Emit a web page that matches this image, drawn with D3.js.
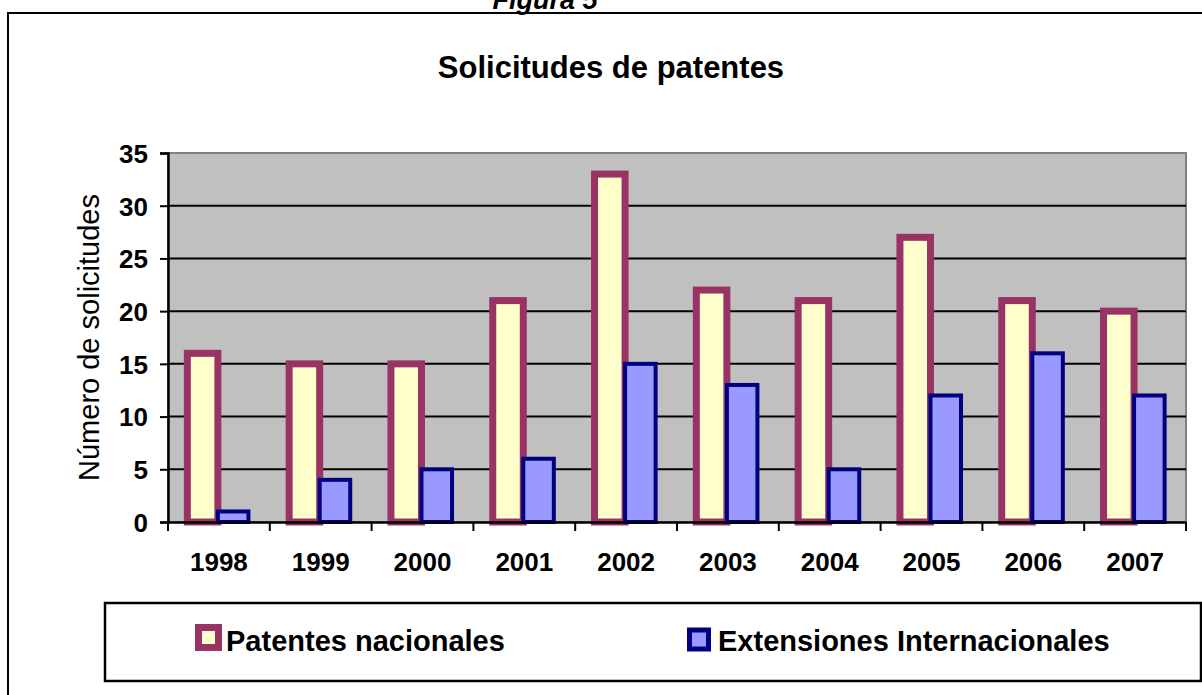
<!DOCTYPE html>
<html>
<head>
<meta charset="utf-8">
<script src="https://cdn.jsdelivr.net/npm/d3@7"></script>
<style>
  body { margin: 0; background: #fff; }
  svg text { font-family: Arial, "Liberation Sans", sans-serif; }
</style>
</head>
<body>
<svg id="chart" width="1202" height="695"></svg>
<script>
var years = ["1998", "1999", "2000", "2001", "2002", "2003", "2004", "2005", "2006", "2007"];
var patentes = [16, 15, 15, 21, 33, 22, 21, 27, 21, 20];
var extensiones = [1, 4, 5, 6, 15, 13, 5, 12, 16, 12];
var yTicks = [0, 5, 10, 15, 20, 25, 30, 35];
var seriesNames = ["Patentes nacionales", "Extensiones Internacionales"];

var svg = d3.select("#chart"),
    plot = {left: 168, right: 1186, top: 153, bottom: 522};

var data = years.map(function(y, i) { return {year: y, vals: [patentes[i], extensiones[i]]}; });

var fills = ["#ffffcc", "#9999ff"],
    strokes = ["#993366", "#000080"],
    strokeW = [7, 4];

// outer frame + figure caption (cut at the top, as in the scan)
svg.append("rect").attr("x", 8).attr("y", 13).attr("width", 1220).attr("height", 720)
  .attr("fill", "none").attr("stroke", "#000").attr("stroke-width", 2);
svg.append("text").attr("x", 545).attr("y", 9).attr("text-anchor", "middle")
  .style("font-size", "27px").style("font-weight", "bold").style("font-style", "italic")
  .text("Figura 5");

svg.append("text").attr("x", 611).attr("y", 78).attr("text-anchor", "middle")
  .style("font-size", "31px").style("font-weight", "bold")
  .text("Solicitudes de patentes");

var x0 = d3.scaleBand().domain(years).range([plot.left, plot.right]).padding(0);
var x1 = d3.scaleBand().domain([0, 1])
  .range([x0.bandwidth() * 0.19, x0.bandwidth() * 0.79]).padding(0);
var y = d3.scaleLinear().domain([0, 35]).range([plot.bottom, plot.top]);

// plot area
svg.append("rect").attr("x", plot.left).attr("y", plot.top)
  .attr("width", plot.right - plot.left).attr("height", plot.bottom - plot.top)
  .attr("fill", "#c0c0c0").attr("stroke", "#808080").attr("stroke-width", 2);

svg.append("g").selectAll("line").data(yTicks.filter(function(t) { return t > 0 && t < 35; }))
  .enter().append("line")
    .attr("x1", plot.left).attr("x2", plot.right)
    .attr("y1", function(d) { return y(d); }).attr("y2", function(d) { return y(d); })
    .attr("stroke", "#000").attr("stroke-width", 2);

// bars
var groups = svg.append("g").selectAll("g").data(data).enter().append("g")
  .attr("transform", function(d) { return "translate(" + x0(d.year) + ",0)"; });

groups.selectAll("rect")
  .data(function(d) { return d.vals.map(function(v, k) { return {k: k, v: v}; }); })
  .enter().append("rect")
    .attr("x", function(d) { return x1(d.k); })
    .attr("y", function(d) { return y(d.v); })
    .attr("width", x1.bandwidth())
    .attr("height", function(d) { return y(0) - y(d.v); })
    .attr("fill", function(d) { return fills[d.k]; })
    .attr("stroke", function(d) { return strokes[d.k]; })
    .attr("stroke-width", function(d) { return strokeW[d.k]; });

// axes
var yAxis = svg.append("g").attr("transform", "translate(" + plot.left + ",0)")
  .call(d3.axisLeft(y).tickValues(yTicks).tickSize(8).tickPadding(12));
var xAxis = svg.append("g").attr("transform", "translate(0," + plot.bottom + ")")
  .call(d3.axisBottom(x0).tickSize(0).tickPadding(31));

svg.append("g").selectAll("line").data(years.concat(["end"])).enter().append("line")
  .attr("x1", function(d, i) { return plot.left + i * x0.bandwidth(); })
  .attr("x2", function(d, i) { return plot.left + i * x0.bandwidth(); })
  .attr("y1", plot.bottom).attr("y2", plot.bottom + 9)
  .attr("stroke", "#000").attr("stroke-width", 2);

[yAxis, xAxis].forEach(function(a) {
  a.select(".domain").attr("stroke", "#000").attr("stroke-width", 2.5);
  a.selectAll(".tick line").attr("stroke", "#000").attr("stroke-width", 2);
  a.selectAll("text").attr("fill", "#000")
    .style("font-size", "26px").style("font-weight", "bold")
    .attr("font-family", null);
});
yAxis.selectAll("text").attr("dy", "0.36em");

svg.append("text")
  .attr("transform", "translate(99," + ((plot.top + plot.bottom) / 2) + ") rotate(-90)")
  .attr("text-anchor", "middle")
  .style("font-size", "29px")
  .text("Número de solicitudes");

// legend
svg.append("rect").attr("x", 105).attr("y", 603).attr("width", 1096).attr("height", 78)
  .attr("fill", "#fff").attr("stroke", "#000").attr("stroke-width", 2.5);

var legendPos = [{sx: 198.5, sw: 20, tx: 226}, {sx: 689.5, sw: 19, tx: 718}];
var leg = svg.append("g").selectAll("g").data(seriesNames).enter().append("g");
leg.append("rect")
  .attr("x", function(d, i) { return legendPos[i].sx; })
  .attr("y", function(d, i) { return 651 - strokeW[i] / 2 - legendPos[i].sw; })
  .attr("width", function(d, i) { return legendPos[i].sw; })
  .attr("height", function(d, i) { return legendPos[i].sw; })
  .attr("fill", function(d, i) { return fills[i]; })
  .attr("stroke", function(d, i) { return strokes[i]; })
  .attr("stroke-width", function(d, i) { return i === 0 ? 7 : 5; });
leg.append("text")
  .attr("x", function(d, i) { return legendPos[i].tx; })
  .attr("y", 651)
  .style("font-size", "29px").style("font-weight", "bold")
  .text(function(d) { return d; });
</script>
</body>
</html>
